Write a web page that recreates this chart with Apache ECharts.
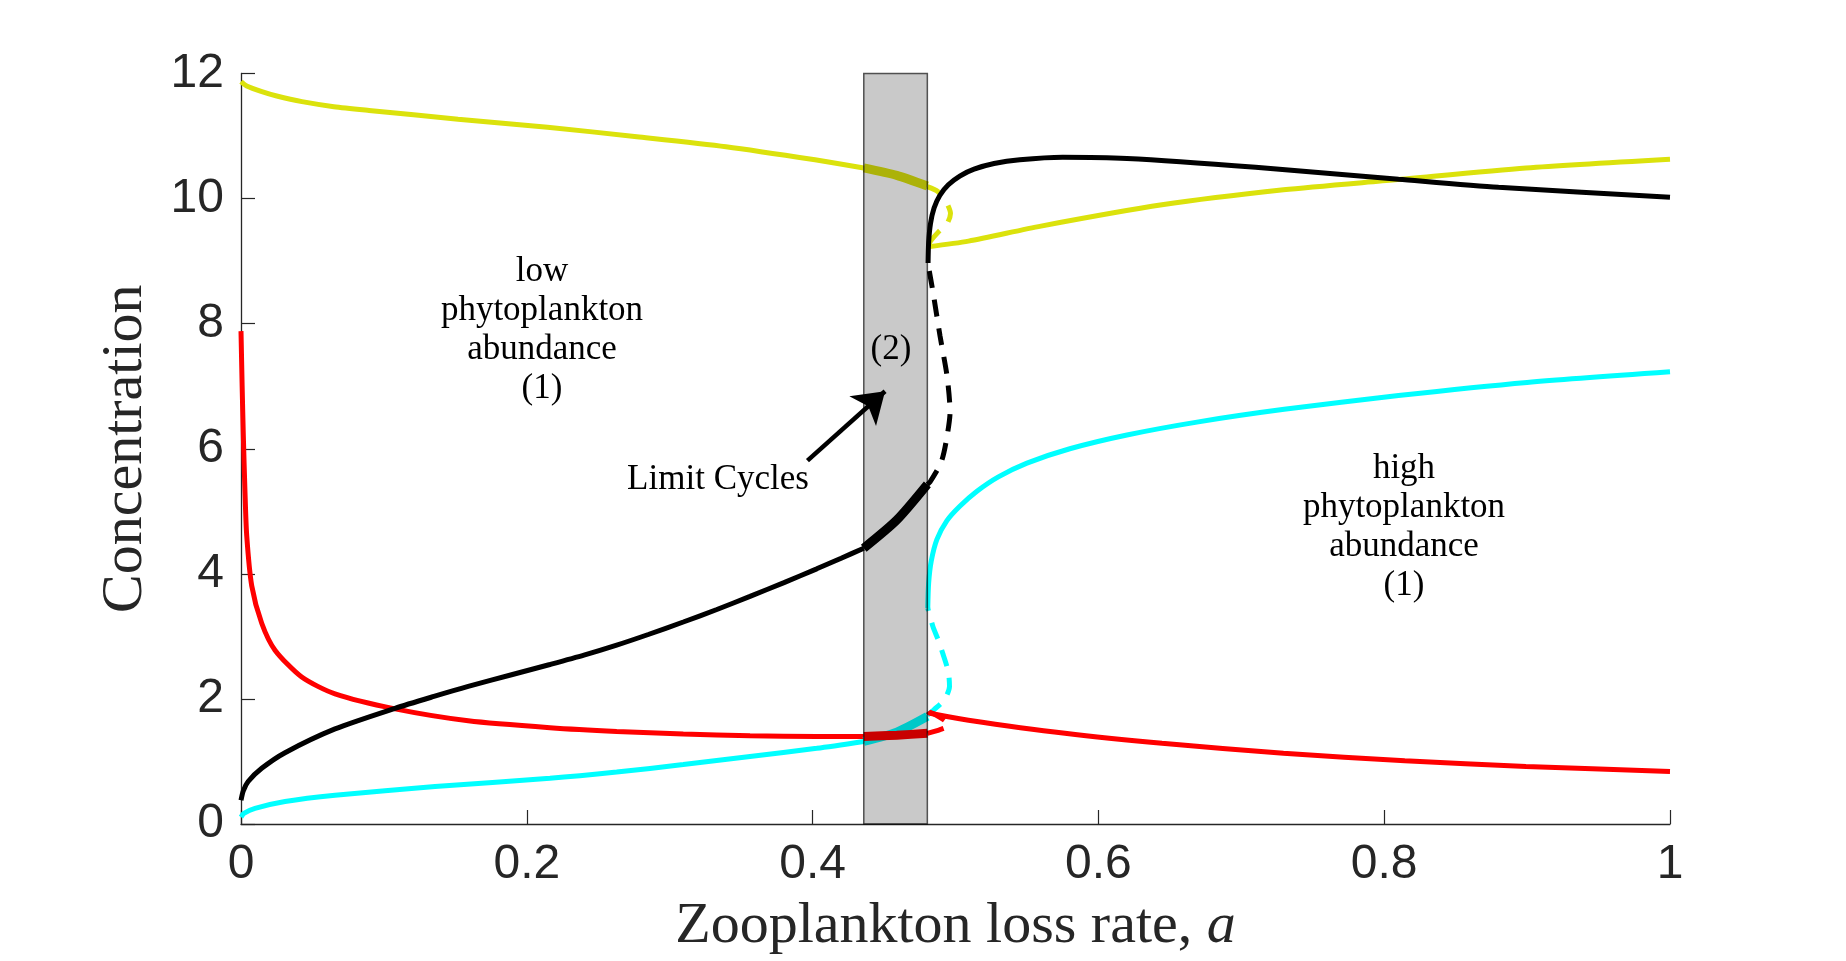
<!DOCTYPE html>
<html>
<head>
<meta charset="utf-8">
<title>Concentration vs zooplankton loss rate</title>
<script src="https://cdn.jsdelivr.net/npm/echarts@6/dist/echarts.min.js"></script>
<style>
html, body { margin: 0; padding: 0; background: #fff; }
#chart { width: 1846px; height: 961px; }
</style>
</head>
<body>
<div id="chart"></div>
<script>
// branches, points are [a, concentration]
// low = stable lower branch, lc = limit cycle part, uns = unstable (dashed), high = stable upper branch
var yellowLow = [[0,11.87],[0.004,11.8],[0.0146,11.71],[0.025,11.64],[0.0427,11.55],[0.065,11.47],[0.0896,11.41],[0.1519,11.27],[0.2145,11.14],[0.277,10.99],[0.3394,10.83],[0.4017,10.62],[0.4358,10.49]];
var yellowLc = [[0.4358,10.49],[0.4589,10.37],[0.4803,10.20]];
var yellowUns = [[0.4803,10.19],[0.4878,10.11],[0.4934,9.95],[0.4965,9.76],[0.4941,9.60],[0.4878,9.46],[0.4822,9.31],[0.4808,9.23]];
var yellowHigh = [[0.4808,9.23],[0.5091,9.32],[0.5598,9.56],[0.6445,9.90],[0.7295,10.14],[0.8075,10.30],[0.8992,10.49],[1,10.63]];

var blackLow = [[0,0.38],[0.0016,0.53],[0.005,0.68],[0.0145,0.89],[0.0308,1.14],[0.0658,1.52],[0.1078,1.85],[0.135,2.04],[0.159,2.20],[0.19,2.39],[0.2162,2.55],[0.24,2.70],[0.2629,2.86],[0.285,3.03],[0.3095,3.23],[0.333,3.43],[0.3562,3.64],[0.38,3.86],[0.4029,4.08],[0.42,4.25],[0.4358,4.41]];
var blackLc = [[0.4358,4.41],[0.4589,4.86],[0.4803,5.43]];
var blackUns = [[0.4803,5.43],[0.4822,5.47],[0.4899,5.78],[0.4934,6.11],[0.4962,6.59],[0.4941,7.16],[0.4892,7.80],[0.4843,8.50],[0.4808,8.95]];
var blackHigh = [[0.4808,8.97],[0.4812,9.3],[0.4825,9.6],[0.485,9.85],[0.489,10.05],[0.495,10.22],[0.503,10.36],[0.513,10.47],[0.527,10.56],[0.545,10.62],[0.575,10.66],[0.62,10.64],[0.71,10.50],[0.81,10.31],[0.88,10.18],[1,10.02]];

var cyanLow = [[0,0.11],[0.002,0.17],[0.0098,0.25],[0.0308,0.36],[0.0658,0.46],[0.1358,0.60],[0.2162,0.73],[0.2629,0.83],[0.3095,0.95],[0.3562,1.08],[0.4029,1.21],[0.4358,1.32]];
var cyanLc = [[0.4358,1.32],[0.4589,1.47],[0.4803,1.72]];
var cyanUns = [[0.4803,1.74],[0.485,1.83],[0.492,1.98],[0.4958,2.2],[0.495,2.43],[0.4915,2.7],[0.4878,2.95],[0.4843,3.15],[0.4806,3.45]];
var cyanHigh = [[0.4806,3.45],[0.4812,3.85],[0.483,4.2],[0.487,4.55],[0.494,4.85],[0.503,5.08],[0.515,5.32],[0.53,5.55],[0.55,5.77],[0.58,6.0],[0.62,6.22],[0.67,6.43],[0.73,6.63],[0.81,6.85],[0.9,7.06],[1,7.23]];

var redLow = [[0,7.88],[0.0008,7.0],[0.0016,6.23],[0.0028,5.3],[0.004,4.61],[0.0075,3.81],[0.0145,3.21],[0.0238,2.78],[0.0425,2.35],[0.0658,2.08],[0.1078,1.84],[0.159,1.65],[0.2162,1.54],[0.2629,1.48],[0.3095,1.44],[0.3562,1.41],[0.4029,1.40],[0.4358,1.40]];
var redLc = [[0.4358,1.40],[0.4589,1.42],[0.4803,1.45]];
var redUns = [[0.4803,1.45],[0.4892,1.51],[0.4948,1.57],[0.4927,1.65],[0.4857,1.75],[0.4808,1.80]];
var redHigh = [[0.4808,1.80],[0.4822,1.77],[0.5091,1.66],[0.5766,1.45],[0.6445,1.29],[0.7295,1.13],[0.8144,1.01],[0.8992,0.92],[1,0.84]];

// limit cycle band and the arrow
var boxRange = [0.4358, 0.4803];
var arrowFrom = [0.3964, 5.81];
var arrowTo = [0.4507, 6.92];

var xTicks = [0, 0.2, 0.4, 0.6, 0.8, 1];
var yTicks = [0, 2, 4, 6, 8, 10, 12];

var YELLOW = '#dbe20c', BLACK = '#000000', CYAN = '#00ffff', RED = '#ff0000';
var AXIS = '#262626';

var branch = function(data, color, kind){
    return {
        type: 'line',
        data: data,
        symbol: 'none',
        smooth: 0.25,
        silent: true,
        z: kind === 'lc' ? 3 : 2,
        lineStyle: {
            color: color,
            width: kind === 'lc' ? 9 : 5,
            type: kind === 'uns' ? [17, 12] : 'solid'
        }
    };
};

var series = [];
[[yellowLow, yellowLc, yellowUns, yellowHigh, YELLOW],
 [cyanLow, cyanLc, cyanUns, cyanHigh, CYAN],
 [redLow, redLc, redUns, redHigh, RED],
 [blackLow, blackLc, blackUns, blackHigh, BLACK]].forEach(function(v){
    series.push(branch(v[0], v[4], 'low'));
    series.push(branch(v[1], v[4], 'lc'));
    series.push(branch(v[2], v[4], 'uns'));
    series.push(branch(v[3], v[4], 'high'));
});

// grey band over the limit cycle region (semi transparent so curves darken)
series.push({
    type: 'line',
    data: [[boxRange[0], 0]],
    symbol: 'none',
    silent: true,
    lineStyle: {width: 0},
    markArea: {
        silent: true,
        z: 4,
        itemStyle: {color: 'rgba(0,0,0,0.21)', borderColor: 'rgba(0,0,0,0.65)', borderWidth: 1.5},
        label: {show: false},
        data: [[{xAxis: boxRange[0], yAxis: 0}, {xAxis: boxRange[1], yAxis: 12}]]
    },
    markLine: {
        silent: true,
        z: 6,
        symbol: ['none', 'arrow'],
        symbolSize: 30,
        label: {show: false},
        lineStyle: {color: '#000', width: 4.5, type: 'solid'},
        data: [[{coord: arrowFrom}, {coord: arrowTo}]]
    }
});

var serif = '"Liberation Serif", "DejaVu Serif", serif';
var textStyle = function(txt, size, lh){
    return {
        text: txt,
        font: size + 'px ' + serif,
        fill: '#000',
        align: 'center', verticalAlign: 'middle',
        textAlign: 'center', textVerticalAlign: 'middle',
        lineHeight: lh
    };
};

var option = {
    animation: false,
    backgroundColor: '#fff',
    grid: {left: 241, right: 176, top: 73.5, bottom: 135},
    xAxis: {
        type: 'value',
        min: xTicks[0], max: xTicks[xTicks.length - 1], interval: 0.2,
        name: 'Zooplankton loss rate, {i|a}',
        nameLocation: 'middle',
        nameGap: 74,
        nameTextStyle: {
            fontFamily: serif, fontSize: 58, color: AXIS,
            rich: {i: {fontFamily: serif, fontSize: 58, fontStyle: 'italic', color: AXIS}}
        },
        axisLine: {show: true, lineStyle: {color: AXIS, width: 1.3}},
        axisTick: {show: true, inside: true, length: 14, lineStyle: {color: AXIS, width: 1.2}},
        axisLabel: {margin: 17, fontFamily: '"Liberation Sans", Arial, sans-serif', fontSize: 48, color: AXIS},
        splitLine: {show: false}
    },
    yAxis: {
        type: 'value',
        min: yTicks[0], max: yTicks[yTicks.length - 1], interval: 2,
        name: 'Concentration',
        nameLocation: 'middle',
        nameGap: 86,
        nameTextStyle: {fontFamily: serif, fontSize: 58, color: AXIS},
        axisLine: {show: true, lineStyle: {color: AXIS, width: 1.3}},
        axisTick: {show: true, inside: true, length: 14, lineStyle: {color: AXIS, width: 1.2}},
        axisLabel: {margin: 17, fontFamily: '"Liberation Sans", Arial, sans-serif', fontSize: 48, color: AXIS},
        splitLine: {show: false}
    },
    graphic: [
        {type: 'text', x: 542, y: 330, z: 100, style: textStyle('low\nphytoplankton\nabundance\n(1)', 35, 39)},
        {type: 'text', x: 1404, y: 527, z: 100, style: textStyle('high\nphytoplankton\nabundance\n(1)', 35, 39)},
        {type: 'text', x: 891, y: 350, z: 100, style: textStyle('(2)', 35, 39)},
        {type: 'text', x: 718, y: 480, z: 100, style: textStyle('Limit Cycles', 35, 39)}
    ],
    series: series
};

var myChart = echarts.init(document.getElementById('chart'));
myChart.setOption(option);
</script>
</body>
</html>
